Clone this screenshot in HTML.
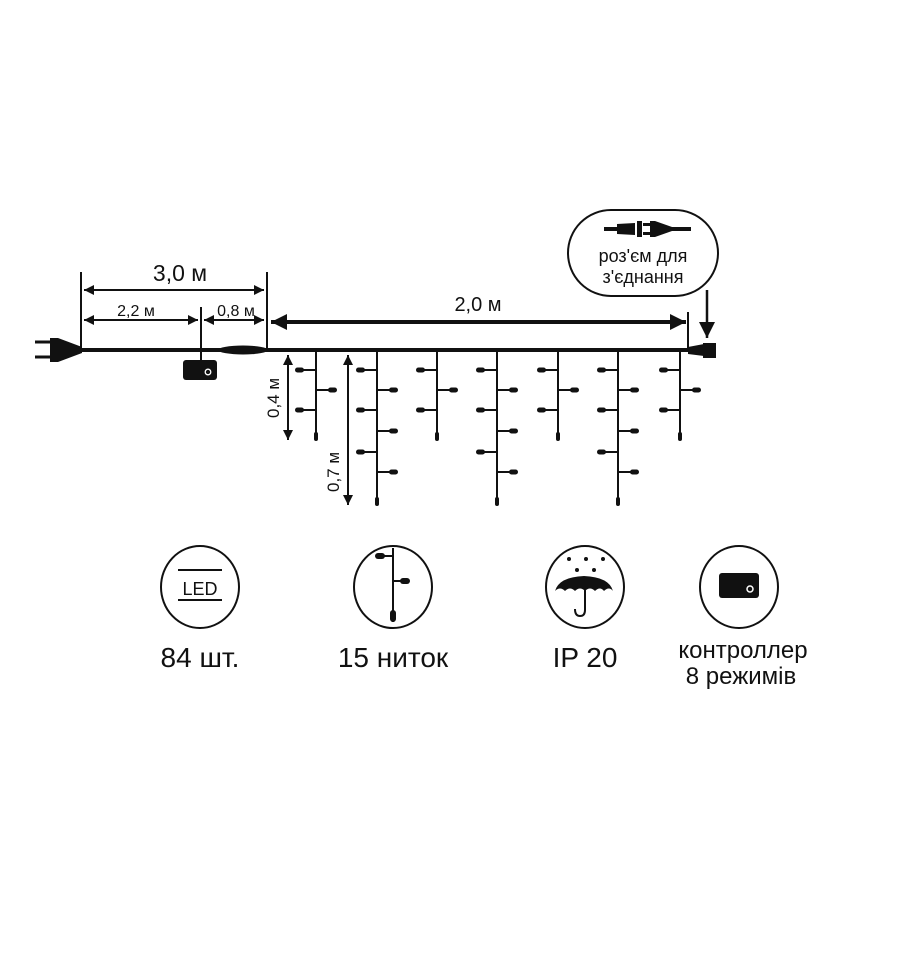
<!DOCTYPE html>
<html><head><meta charset="utf-8"><style>
html,body{margin:0;padding:0;background:#fff}
svg{display:block}
text{font-family:"Liberation Sans","DejaVu Sans",sans-serif;fill:#111}
</style></head><body>
<svg width="900" height="962" viewBox="0 0 900 962" xmlns="http://www.w3.org/2000/svg">
<defs>
<marker id="a" viewBox="0 0 10 10" refX="10" refY="5" markerWidth="10" markerHeight="10" markerUnits="userSpaceOnUse" orient="auto-start-reverse"><path d="M0,0L10,5L0,10z" fill="#111"/></marker>
<marker id="b" viewBox="0 0 10 10" refX="10" refY="5" markerWidth="16" markerHeight="16" markerUnits="userSpaceOnUse" orient="auto-start-reverse"><path d="M0,0L10,5L0,10z" fill="#111"/></marker>
<g id="L"><line x1="-14" y1="0" x2="0" y2="0" stroke="#111" stroke-width="2"/><rect x="-21" y="-2.5" width="9" height="5" rx="2.5" fill="#111"/></g>
<g id="R"><line x1="0" y1="0" x2="14" y2="0" stroke="#111" stroke-width="2"/><rect x="12" y="-2.5" width="9" height="5" rx="2.5" fill="#111"/></g>
<g id="S"><line x1="0" y1="350" x2="0" y2="434" stroke="#111" stroke-width="2"/><rect x="-2" y="432" width="4" height="9" rx="2" fill="#111"/><use href="#L" y="370"/><use href="#L" y="410"/><use href="#R" y="390"/></g>
<g id="G"><line x1="0" y1="350" x2="0" y2="499" stroke="#111" stroke-width="2"/><rect x="-2" y="497" width="4" height="9" rx="2" fill="#111"/><use href="#L" y="370"/><use href="#L" y="410"/><use href="#L" y="452"/><use href="#R" y="390"/><use href="#R" y="431"/><use href="#R" y="472"/></g>
</defs>
<g stroke="#111" fill="none">
<line x1="78" y1="350" x2="700" y2="350" stroke-width="4"/>
<path d="M35,342H52M35,357H52" stroke-width="3"/>
<path d="M50,338H58L82,347V353L58,362H50Z" fill="#111" stroke="none"/>
<line x1="81" y1="272" x2="81" y2="350" stroke-width="2"/>
<line x1="267" y1="272" x2="267" y2="350" stroke-width="2"/>
<line x1="84" y1="290" x2="264" y2="290" stroke-width="2" marker-start="url(#a)" marker-end="url(#a)"/>
<line x1="84" y1="320" x2="198" y2="320" stroke-width="2" marker-start="url(#a)" marker-end="url(#a)"/>
<line x1="204" y1="320" x2="264" y2="320" stroke-width="2" marker-start="url(#a)" marker-end="url(#a)"/>
<line x1="201" y1="307" x2="201" y2="362" stroke-width="2"/>
<rect x="183" y="360" width="34" height="20" rx="3" fill="#111" stroke="none"/>
<circle cx="208" cy="372" r="2.8" stroke="#fff" stroke-width="1.3"/>
<ellipse cx="243" cy="350" rx="25" ry="4.5" fill="#111" stroke="none"/>
<line x1="271" y1="322" x2="686" y2="322" stroke-width="4" marker-start="url(#b)" marker-end="url(#b)"/>
<line x1="688" y1="312" x2="688" y2="350" stroke-width="2"/>
<path d="M688,347L704,344V356L688,354Z" fill="#111" stroke="none"/>
<rect x="703" y="343" width="13" height="15" fill="#111" stroke="none"/>
<line x1="707" y1="290" x2="707" y2="338" stroke-width="2.5" marker-end="url(#b)"/>
<rect x="568" y="210" width="150" height="86" rx="43" stroke-width="2"/>
<line x1="288" y1="355" x2="288" y2="440" stroke-width="2" marker-start="url(#a)" marker-end="url(#a)"/>
<line x1="348" y1="355" x2="348" y2="505" stroke-width="2" marker-start="url(#a)" marker-end="url(#a)"/>
</g>
<g fill="#111">
<rect x="604" y="227" width="14" height="4"/>
<path d="M617,224L635,223V235L617,234Z"/>
<rect x="637" y="221" width="5" height="16"/>
<rect x="643" y="223" width="8" height="3"/><rect x="643" y="232" width="8" height="3"/>
<path d="M650,221H655L672,227V231L655,237H650Z"/>
<rect x="671" y="227" width="20" height="4"/>
</g>
<use href="#S" x="316"/>
<use href="#G" x="377"/>
<use href="#S" x="437"/>
<use href="#G" x="497"/>
<use href="#S" x="558"/>
<use href="#G" x="618"/>
<use href="#S" x="680"/>
<text x="180" y="281" font-size="23" text-anchor="middle">3,0 м</text>
<text x="136" y="316" font-size="16" text-anchor="middle">2,2 м</text>
<text x="236" y="316" font-size="16" text-anchor="middle">0,8 м</text>
<text x="478" y="311" font-size="20" text-anchor="middle">2,0 м</text>
<text x="643" y="262" font-size="18" text-anchor="middle">роз'єм для</text>
<text x="643" y="283" font-size="18" text-anchor="middle">з'єднання</text>
<text transform="translate(279,398) rotate(-90)" font-size="17" text-anchor="middle">0,4 м</text>
<text transform="translate(339,472) rotate(-90)" font-size="17" text-anchor="middle">0,7 м</text>
<g stroke="#111" fill="none" stroke-width="2">
<ellipse cx="200" cy="587" rx="39" ry="41"/>
<ellipse cx="393" cy="587" rx="39" ry="41"/>
<ellipse cx="585" cy="587" rx="39" ry="41"/>
<ellipse cx="739" cy="587" rx="39" ry="41"/>
<line x1="178" y1="570" x2="222" y2="570"/>
<line x1="178" y1="600" x2="222" y2="600"/>
<line x1="393" y1="548" x2="393" y2="622"/>
<line x1="382" y1="556" x2="393" y2="556"/>
<line x1="393" y1="581" x2="405" y2="581"/>
<path d="M585,588V610Q585,616 580,616Q575,616 575,609"/>
</g>
<text x="200" y="595" font-size="18" text-anchor="middle">LED</text>
<g fill="#111">
<rect x="375" y="553" width="10" height="6" rx="3"/>
<rect x="400" y="578" width="10" height="6" rx="3"/>
<rect x="390" y="610" width="6" height="12" rx="3"/>
<path d="M555,591Q559,577 584,576Q609,577 613,591Q609,586 604,591Q600,586 595,591Q590,586 585,591Q580,586 575,591Q570,586 565,591Q560,586 555,591Z"/>
<circle cx="569" cy="559" r="2"/><circle cx="586" cy="559" r="2"/><circle cx="603" cy="559" r="2"/>
<circle cx="577" cy="570" r="2"/><circle cx="594" cy="570" r="2"/>
<rect x="719" y="573" width="40" height="25" rx="3"/>
</g>
<circle cx="750" cy="589" r="3" stroke="#fff" stroke-width="1.5" fill="none"/>
<text x="200" y="667" font-size="28" text-anchor="middle">84 шт.</text>
<text x="393" y="667" font-size="28" text-anchor="middle">15 ниток</text>
<text x="585" y="667" font-size="28" text-anchor="middle">IP 20</text>
<text x="743" y="658" font-size="24" text-anchor="middle">контроллер</text>
<text x="741" y="684" font-size="24" text-anchor="middle">8 режимів</text>
</svg>
</body></html>
